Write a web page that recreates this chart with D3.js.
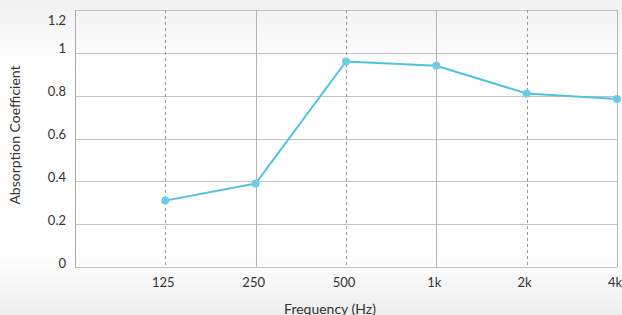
<!DOCTYPE html>
<html>
<head>
<meta charset="utf-8">
<script src="https://cdn.jsdelivr.net/npm/d3@7"></script>
<style>
  html, body { margin: 0; padding: 0; }
  body { width: 622px; height: 315px; overflow: hidden; font-family: Lato, "Open Sans", sans-serif; }
</style>
</head>
<body>
<div id="chart"></div>
<script>
// chart values
var bands = ["125", "250", "500", "1k", "2k", "4k"];
var absorption = [0.31, 0.39, 0.96, 0.94, 0.81, 0.785];
var yTicks = [0, 0.2, 0.4, 0.6, 0.8, 1, 1.2];
// which vertical grid lines are dashed (octave centres) vs solid
var dashedBands = ["125", "500", "2k"];

var width = 622, height = 315;
var margin = {top: 10, right: 5, bottom: 48, left: 75};

var svg = d3.select('#chart').append('svg')
	.attr('width', width)
	.attr('height', height);

// soft background gradient
var defs = svg.append('defs');
var grad = defs.append('linearGradient')
	.attr('id', 'bg')
	.attr('x1', 0).attr('y1', 0).attr('x2', 0).attr('y2', 1);
grad.append('stop').attr('offset', '0%').attr('stop-color', '#f1f1f1');
grad.append('stop').attr('offset', '22%').attr('stop-color', '#ffffff');
grad.append('stop').attr('offset', '80%').attr('stop-color', '#ffffff');
grad.append('stop').attr('offset', '100%').attr('stop-color', '#eeeeee');
svg.append('rect')
	.attr('width', width)
	.attr('height', height)
	.attr('fill', 'url(#bg)');

// x uses an empty leading slot so 125 sits one step from the y axis
var x = d3.scalePoint()
	.domain([""].concat(bands))
	.range([margin.left, 617]);

var y = d3.scaleLinear()
	.domain([0, 1.2])
	.range([267, margin.top]);

// horizontal grid
svg.append('g')
	.selectAll('line')
	.data(yTicks)
	.enter().append('line')
	.attr('x1', margin.left)
	.attr('x2', 617)
	.attr('y1', function(d) { return Math.round(y(d)) + 0.5; })
	.attr('y2', function(d) { return Math.round(y(d)) + 0.5; })
	.attr('stroke', '#c2c2c2')
	.attr('stroke-width', 1);

// vertical grid
svg.append('g')
	.selectAll('line')
	.data(bands)
	.enter().append('line')
	.attr('x1', function(d) { return Math.round(x(d)) + 0.5; })
	.attr('x2', function(d) { return Math.round(x(d)) + 0.5; })
	.attr('y1', y(1.2))
	.attr('y2', y(0))
	.attr('stroke', function(d) { return dashedBands.indexOf(d) >= 0 ? '#9a9a9a' : '#b5b5b5'; })
	.attr('stroke-dasharray', function(d) { return dashedBands.indexOf(d) >= 0 ? '3,3' : null; })
	.attr('stroke-width', 1);

// left axis line
svg.append('line')
	.attr('x1', margin.left + 0.5).attr('x2', margin.left + 0.5)
	.attr('y1', y(1.2)).attr('y2', y(0))
	.attr('stroke', '#aaaaaa');

// y tick labels (top one pushed down to stay in view)
svg.append('g')
	.selectAll('text')
	.data(yTicks)
	.enter().append('text')
	.attr('x', 66)
	.attr('y', function(d) { return Math.max(y(d) - 4, 20); })
	.attr('dy', '0.35em')
	.attr('text-anchor', 'end')
	.attr('font-size', 13)
	.attr('fill', '#333')
	.text(function(d) { return d; });

// x tick labels
svg.append('g')
	.selectAll('text')
	.data(bands)
	.enter().append('text')
	.attr('x', function(d) { return x(d) - 2; })
	.attr('y', 282)
	.attr('dy', '0.35em')
	.attr('text-anchor', 'middle')
	.attr('font-size', 13)
	.attr('fill', '#333')
	.text(function(d) { return d; });

// axis titles
svg.append('text')
	.attr('x', 330)
	.attr('y', 309)
	.attr('dy', '0.35em')
	.attr('text-anchor', 'middle')
	.attr('font-size', 14)
	.attr('fill', '#333')
	.text('Frequency (Hz)');

svg.append('text')
	.attr('transform', 'translate(15,135) rotate(-90)')
	.attr('dy', '0.35em')
	.attr('text-anchor', 'middle')
	.attr('font-size', 14)
	.attr('fill', '#333')
	.text('Absorption Coefficient');

// series
var line = d3.line()
	.x(function(d, i) { return x(bands[i]); })
	.y(function(d) { return y(d); });

svg.append('path')
	.datum(absorption)
	.attr('d', line)
	.attr('fill', 'none')
	.attr('stroke', '#4ec3e0')
	.attr('stroke-width', 2);

svg.append('g')
	.selectAll('circle')
	.data(absorption)
	.enter().append('circle')
	.attr('cx', function(d, i) { return x(bands[i]); })
	.attr('cy', function(d) { return y(d); })
	.attr('r', 4)
	.attr('fill', '#6dcbe8');
</script>
</body>
</html>
